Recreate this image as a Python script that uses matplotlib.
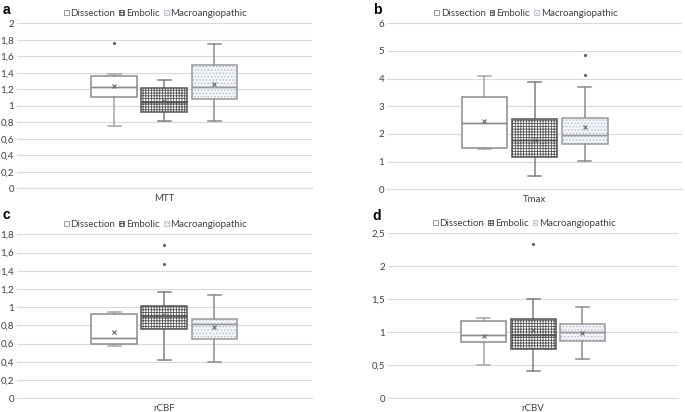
import matplotlib
matplotlib.use('Agg')
import matplotlib.pyplot as plt
from matplotlib.patches import Patch
from matplotlib.ticker import FuncFormatter

plt.rcParams['font.family'] = ['Lato', 'DejaVu Sans']
plt.rcParams['hatch.linewidth'] = 0.6

# groups and panels
categories = ['Dissection', 'Embolic', 'Macroangiopathic']
panel_names = ['MTT', 'Tmax', 'rCBF', 'rCBV']
panel_letters = ['a', 'b', 'c', 'd']

# MTT
mtt_q1 = [1.11, 0.92, 1.08]
mtt_med = [1.23, 1.05, 1.23]
mtt_q3 = [1.36, 1.22, 1.49]
mtt_lo = [0.75, 0.81, 0.81]
mtt_hi = [1.39, 1.31, 1.75]
mtt_mean = [1.24, 1.06, 1.27]
mtt_fliers = [[1.76], [], []]

# Tmax
tmax_q1 = [1.50, 1.16, 1.65]
tmax_med = [2.38, 1.80, 1.95]
tmax_q3 = [3.34, 2.53, 2.58]
tmax_lo = [1.45, 0.49, 1.04]
tmax_hi = [4.10, 3.88, 3.69]
tmax_mean = [2.47, 1.78, 2.25]
tmax_fliers = [[], [], [4.12, 4.84]]

# rCBF
rcbf_q1 = [0.60, 0.76, 0.65]
rcbf_med = [0.66, 0.90, 0.81]
rcbf_q3 = [0.92, 1.01, 0.87]
rcbf_lo = [0.57, 0.42, 0.40]
rcbf_hi = [0.95, 1.17, 1.13]
rcbf_mean = [0.73, 0.91, 0.78]
rcbf_fliers = [[], [1.47, 1.68], []]

# rCBV
rcbv_q1 = [0.86, 0.74, 0.87]
rcbv_med = [0.96, 0.96, 1.01]
rcbv_q3 = [1.17, 1.20, 1.13]
rcbv_lo = [0.50, 0.42, 0.59]
rcbv_hi = [1.22, 1.50, 1.38]
rcbv_mean = [0.95, 1.03, 0.99]
rcbv_fliers = [[], [2.34], []]

y_max = [2, 6, 1.8, 2.5]
y_step = [0.2, 1, 0.2, 0.5]

panel_stats = [
    (mtt_q1, mtt_med, mtt_q3, mtt_lo, mtt_hi, mtt_mean, mtt_fliers),
    (tmax_q1, tmax_med, tmax_q3, tmax_lo, tmax_hi, tmax_mean, tmax_fliers),
    (rcbf_q1, rcbf_med, rcbf_q3, rcbf_lo, rcbf_hi, rcbf_mean, rcbf_fliers),
    (rcbv_q1, rcbv_med, rcbv_q3, rcbv_lo, rcbv_hi, rcbv_mean, rcbv_fliers),
]

# styles per group
edge_colors = ['#8c8c8c', '#555555', '#9a9a9a']
face_colors = ['white', 'white', '#f2f4f7']
hatches = [None, '++++++', '.....']
hatch_colors = [None, '#555555', '#b4bccb']
whisker_colors = ['#a6a6a6', '#808080', '#8c8c8c']
offsets = [-0.17, 0.0, 0.17]
box_w = 0.155

axes_rects = [
    [0.0248, 0.543, 0.4302, 0.4004],
    [0.565, 0.5405, 0.4306, 0.4029],
    [0.0248, 0.0333, 0.4302, 0.398],
    [0.5664, 0.0333, 0.4236, 0.4004],
]
letter_pos = [(0.004, 0.975), (0.545, 0.975), (0.004, 0.478), (0.543, 0.475)]


def comma_fmt(v, pos):
    s = ('%.1f' % v).rstrip('0').rstrip('.')
    return s.replace('.', ',')


fig = plt.figure(figsize=(6.85, 4.12), dpi=100)

for i in range(4):
    ax = fig.add_axes(axes_rects[i])
    q1, med, q3, lo, hi, mean, fl = panel_stats[i]
    for j in range(3):
        st = [dict(q1=q1[j], med=med[j], q3=q3[j], whislo=lo[j], whishi=hi[j],
                   mean=mean[j], fliers=fl[j])]
        # fill and hatch
        res = ax.bxp(st, positions=[0.5 + offsets[j]], widths=box_w,
                     patch_artist=True, showmeans=True, manage_ticks=False,
                     capwidths=0.045,
                     boxprops=dict(facecolor=face_colors[j],
                                   edgecolor=hatch_colors[j] or edge_colors[j],
                                   linewidth=0, hatch=hatches[j]),
                     whiskerprops=dict(color=whisker_colors[j], linewidth=1.1),
                     capprops=dict(color=whisker_colors[j], linewidth=1.1),
                     medianprops=dict(color=edge_colors[j], linewidth=1.0),
                     meanprops=dict(marker='x', markersize=3.5,
                                    markeredgecolor='#666666', markeredgewidth=0.8),
                     flierprops=dict(marker='o', markersize=1.3,
                                     markerfacecolor='#666666',
                                     markeredgecolor='#666666'))
        # box outline on top
        ax.bxp(st, positions=[0.5 + offsets[j]], widths=box_w,
               patch_artist=True, showmeans=False, showfliers=False,
               showcaps=False, manage_ticks=False,
               boxprops=dict(facecolor='none', edgecolor=edge_colors[j],
                             linewidth=1.1),
               whiskerprops=dict(linewidth=0),
               medianprops=dict(color=edge_colors[j], linewidth=1.0))
        res['means'][0].set_zorder(5)

    ax.set_xlim(0, 1)
    ax.set_ylim(0, y_max[i])
    n = int(round(y_max[i] / y_step[i]))
    ax.set_yticks([k * y_step[i] for k in range(n + 1)])
    ax.yaxis.set_major_formatter(FuncFormatter(comma_fmt))
    ax.set_xticks([0.5])
    ax.set_xticklabels([panel_names[i]])
    ax.tick_params(axis='both', length=0, labelsize=7, colors='#404040')
    ax.tick_params(axis='x', pad=4)
    ax.tick_params(axis='y', pad=2)
    ax.grid(axis='y', color='#d9d9d9', linewidth=0.8)
    ax.set_axisbelow(True)
    for s in ['top', 'right', 'left']:
        ax.spines[s].set_visible(False)
    ax.spines['bottom'].set_color('#d9d9d9')
    ax.spines['bottom'].set_linewidth(0.8)

    handles = [Patch(facecolor=face_colors[j],
                     edgecolor=hatch_colors[j] or edge_colors[j],
                     hatch=hatches[j], linewidth=0.6, label=categories[j])
               for j in range(3)]
    ax.legend(handles=handles, loc='lower center', bbox_to_anchor=(0.47, 1.0),
              ncol=3, frameon=False, fontsize=7, handlelength=0.5,
              handleheight=0.5, handletextpad=0.2, columnspacing=0.4,
              borderaxespad=0.15, labelcolor='#404040')

    fig.text(letter_pos[i][0], letter_pos[i][1], panel_letters[i],
             fontsize=10, fontweight='bold', family=['Liberation Sans', 'DejaVu Sans'],
             va='center', ha='left')

fig.savefig('out.png', dpi=100)
